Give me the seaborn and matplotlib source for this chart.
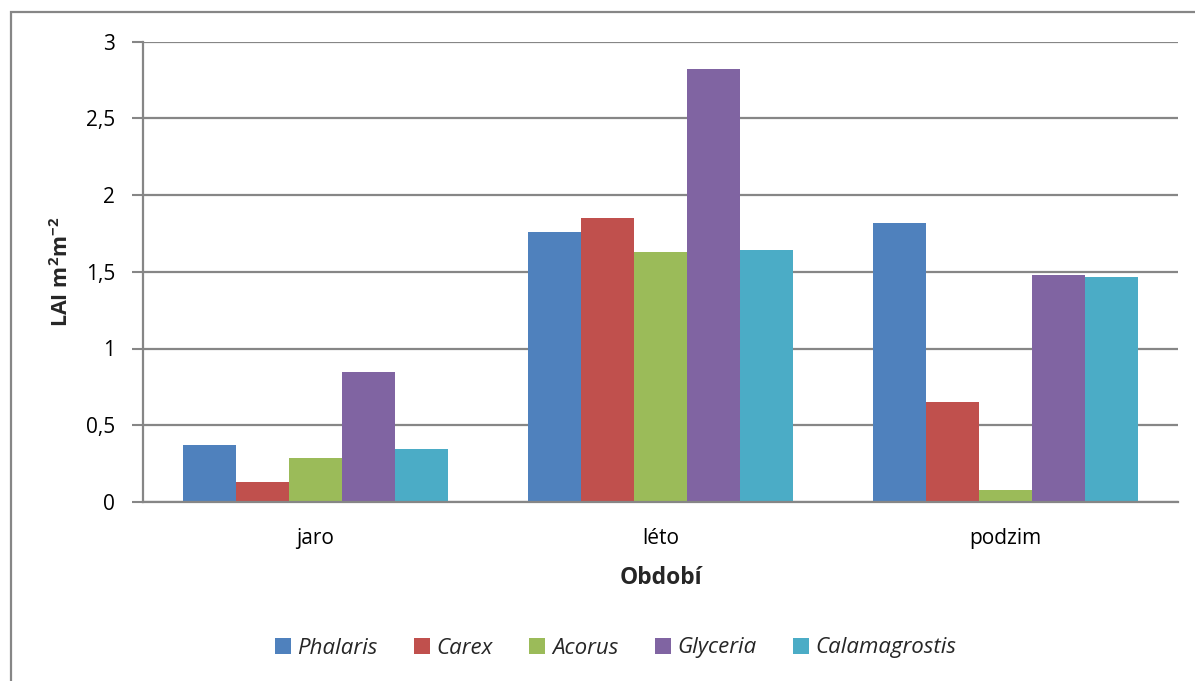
import matplotlib
matplotlib.use("Agg")
import matplotlib.pyplot as plt
from matplotlib.patches import Rectangle
from matplotlib.lines import Line2D
import seaborn as sns
import pandas as pd

# LAI values per season and species
seasons = ["jaro", "léto", "podzim"]
species = ["Phalaris", "Carex", "Acorus", "Glyceria", "Calamagrostis"]
phalaris = [0.37, 1.76, 1.82]
carex = [0.13, 1.85, 0.65]
acorus = [0.285, 1.63, 0.08]
glyceria = [0.85, 2.82, 1.48]
calamagrostis = [0.345, 1.64, 1.465]
yticks = [0, 0.5, 1, 1.5, 2, 2.5, 3]
ytick_labels = ["0", "0,5", "1", "1,5", "2", "2,5", "3"]

colors = ["#4F81BD", "#C0504D", "#9BBB59", "#8064A2", "#4BACC6"]
grey = "#868686"

series = [phalaris, carex, acorus, glyceria, calamagrostis]
df = pd.DataFrame(
    [(s, sp, v) for sp, vals in zip(species, series) for s, v in zip(seasons, vals)],
    columns=["season", "species", "lai"],
)

sns.set_theme(style="white")
plt.rcParams["font.family"] = ["Open Sans", "DejaVu Sans"]
plt.rcParams["mathtext.fontset"] = "custom"
plt.rcParams["mathtext.rm"] = "Open Sans"
plt.rcParams["mathtext.bf"] = "Open Sans:bold"

fig = plt.figure(figsize=(11.95, 6.81), dpi=100)
ax = fig.add_axes([143 / 1195, 1 - 502 / 681, (1178 - 143) / 1195, (502 - 41.5) / 681])

sns.barplot(
    data=df, x="season", y="lai", hue="species", order=seasons, hue_order=species,
    palette=colors, width=0.768, saturation=1, linewidth=0, ax=ax, legend=False,
)

ax.set_xlim(-0.5, 2.5)
ax.set_ylim(0, 3)
ax.set_yticks(yticks)
ax.set_yticklabels(ytick_labels)
ax.set_xticks(range(len(seasons)))
ax.set_xticklabels(seasons)
ax.set_xticks([-0.5, 0.5, 1.5, 2.5], minor=True)
ax.tick_params(axis="x", which="major", length=0, pad=19, labelsize=15, colors="black")
ax.tick_params(axis="x", which="minor", length=8, width=1.5, color=grey, direction="out")
ax.tick_params(axis="y", length=8, width=1.5, color=grey, direction="out", pad=12,
               labelsize=15, labelcolor="black", left=True)

ax.yaxis.grid(True, color=grey, linewidth=1.6)
ax.set_axisbelow(True)
for side in ["top", "right"]:
    ax.spines[side].set_visible(False)
for side in ["left", "bottom"]:
    ax.spines[side].set_color(grey)
    ax.spines[side].set_linewidth(1.6)

ax.set_xlabel("Období", fontsize=16.5, fontweight="bold", labelpad=12)
ax.set_ylabel(r"LAI m$^{\mathbf{2}}$m$^{\mathbf{-2}}$", fontsize=15.5, fontweight="bold")
ax.yaxis.set_label_coords(-0.068, 0.5)

handles = [Line2D([], [], marker="s", linestyle="none", markersize=11,
                  markerfacecolor=c, markeredgewidth=0) for c in colors]
fig.legend(handles, species, loc="center", bbox_to_anchor=(614 / 1195, 1 - 648 / 681),
           ncol=5, frameon=False, prop={"style": "italic", "size": 16},
           handletextpad=0.15, columnspacing=1.5, handlelength=1.0)

# chart frame
fig.patches.append(Rectangle((11 / 1195, -0.2), 2, 1.2 - 12 / 681, transform=fig.transFigure,
                             fill=False, edgecolor=grey, linewidth=1.6))

fig.savefig("out.png", dpi=100, facecolor="white")
